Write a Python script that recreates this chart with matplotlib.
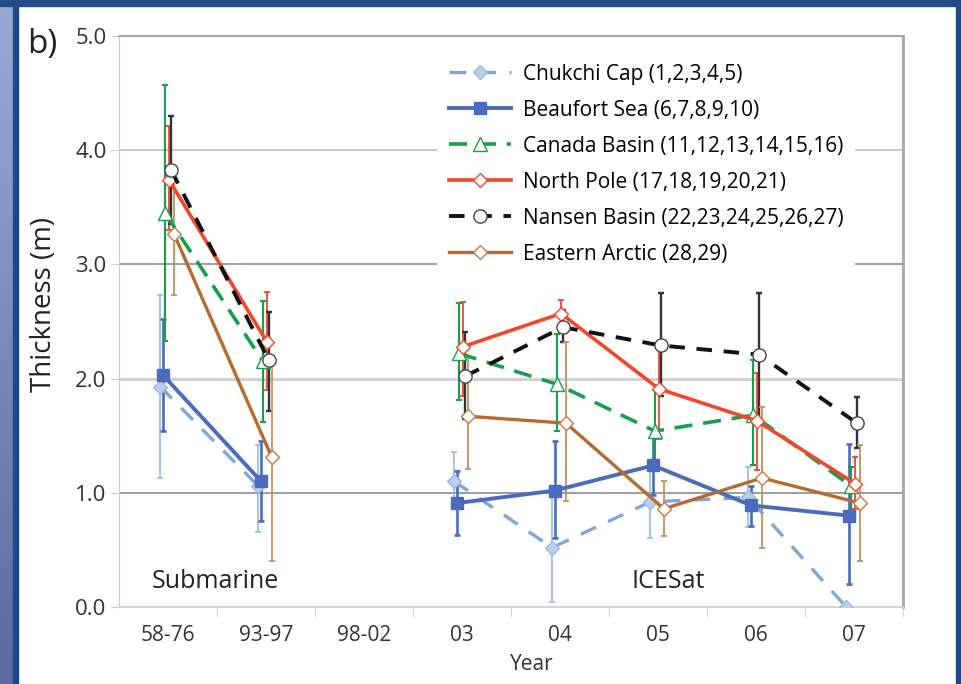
import numpy as np
import matplotlib
matplotlib.use("Agg")
import matplotlib.pyplot as plt
from matplotlib.patches import Rectangle

plt.rcParams['font.family'] = ['Open Sans', 'DejaVu Sans']

nan = np.nan
years = ['58-76', '93-97', '98-02', '03', '04', '05', '06', '07']

# mean thickness (m) per region, with lower / upper ends of the error bars
chukchi = [1.93, 1.06, nan, 1.10, 0.52, 0.92, 0.96, 0.00]
chukchi_lo = [1.13, 0.66, nan, 0.86, 0.04, 0.60, 0.70, 0.00]
chukchi_hi = [2.73, 1.42, nan, 1.36, 1.00, 1.25, 1.23, 0.00]

beaufort = [2.03, 1.10, nan, 0.91, 1.02, 1.24, 0.89, 0.80]
beaufort_lo = [1.54, 0.75, nan, 0.63, 0.60, 0.98, 0.71, 0.20]
beaufort_hi = [2.52, 1.45, nan, 1.19, 1.45, 1.49, 1.06, 1.43]

canada = [3.45, 2.15, nan, 2.22, 1.95, 1.54, 1.68, 1.06]
canada_lo = [2.33, 1.62, nan, 1.81, 1.54, 1.20, 1.24, 0.85]
canada_hi = [4.57, 2.68, nan, 2.66, 2.39, 1.90, 2.16, 1.23]

north_pole = [3.74, 2.32, nan, 2.28, 2.57, 1.91, 1.63, 1.08]
north_pole_lo = [3.30, 1.90, nan, 1.85, 2.40, 1.47, 1.20, 0.86]
north_pole_hi = [4.21, 2.76, nan, 2.67, 2.69, 2.30, 2.05, 1.31]

nansen = [3.83, 2.16, nan, 2.02, 2.45, 2.29, 2.21, 1.61]
nansen_lo = [3.35, 1.72, nan, 1.65, 2.32, 1.85, 1.65, 1.39]
nansen_hi = [4.30, 2.58, nan, 2.41, 2.60, 2.75, 2.75, 1.84]

eastern = [3.27, 1.31, nan, 1.67, 1.61, 0.86, 1.13, 0.91]
eastern_lo = [2.73, 0.40, nan, 1.21, 0.93, 0.62, 0.52, 0.40]
eastern_hi = [3.75, 2.20, nan, 2.19, 2.32, 1.10, 1.75, 1.42]

series = [
    ('Chukchi Cap (1,2,3,4,5)', chukchi, chukchi_lo, chukchi_hi,
     dict(color='#7fa6d6', ls=(0, (5, 4)), lw=2.4, marker='D', ms=7,
          mfc='#bccfe9', mec='#9ab8de'), '#8fb3de', 1.1, -0.08),
    ('Beaufort Sea (6,7,8,9,10)', beaufort, beaufort_lo, beaufort_hi,
     dict(color='#4a6bbf', ls='-', lw=2.8, marker='s', ms=8,
          mfc='#4a6bbf', mec='#4a6bbf'), '#4a6bbf', 1.9, -0.05),
    ('Canada Basin (11,12,13,14,15,16)', canada, canada_lo, canada_hi,
     dict(color='#17a04c', ls=(0, (5, 3)), lw=2.6, marker='^', ms=9.5,
          mfc='white', mec='#17a04c'), '#17a04c', 1.5, -0.03),
    ('North Pole (17,18,19,20,21)', north_pole, north_pole_lo, north_pole_hi,
     dict(color='#f2472a', ls='-', lw=2.6, marker='D', ms=7.5,
          mfc='white', mec='#f2472a'), '#f2472a', 1.3, 0.01),
    ('Nansen Basin (22,23,24,25,26,27)', nansen, nansen_lo, nansen_hi,
     dict(color='#111111', ls=(0, (4, 3)), lw=2.8, marker='o', ms=9.5,
          mfc='white', mec='#444444'), '#333333', 1.7, 0.03),
    ('Eastern Arctic (28,29)', eastern, eastern_lo, eastern_hi,
     dict(color='#b8692e', ls='-', lw=2.4, marker='D', ms=7.5,
          mfc='white', mec='#c27a48'), '#c8905e', 1.3, 0.06),
]

fig = plt.figure(figsize=(9.61, 6.84), dpi=100, facecolor='white')

# blue frame around the panel
grad = fig.add_axes([0, 0, 13 / 961, 1])
grad.imshow(np.linspace(0, 1, 256).reshape(-1, 1), aspect='auto',
            cmap=matplotlib.colors.LinearSegmentedColormap.from_list(
                'side', ['#9aaad6', '#5a6aa2']), extent=[0, 1, 0, 1])
grad.axis('off')
fig.patches.append(Rectangle((13 / 961, 0), 5 / 961, 1, color='#1f4a85',
                             transform=fig.transFigure, zorder=5))
fig.patches.append(Rectangle((0, 1 - 6 / 684), 1, 6 / 684, color='#244c84',
                             transform=fig.transFigure, zorder=5))
fig.patches.append(Rectangle((956 / 961, 0), 5 / 961, 1, color='#1f4a85',
                             transform=fig.transFigure, zorder=5))

ax = fig.add_axes([119 / 961, 1 - 607 / 684, 784 / 961, 571 / 684])
x = np.arange(len(years))

for gy, gc, gw in [(1, '#8c8c8c', 1.2), (2, '#cfcfcf', 2.0),
                   (3, '#8c8c8c', 1.2), (4, '#c4c4c4', 1.3)]:
    ax.axhline(gy, color=gc, lw=gw, zorder=0)

handles = []
for label, vals, lo, hi, style, ecol, ew, off in series:
    v = np.array(vals)
    err = np.array([v - np.array(lo), np.array(hi) - v])
    ax.errorbar(x + off, v, yerr=err, fmt='none', ecolor=ecol,
                elinewidth=ew, capsize=2.5, capthick=ew, zorder=2)
    h, = ax.plot(x + off, v, zorder=3, label=label, **style)
    handles.append(h)

leg = ax.legend(handles=handles, loc='upper right',
                bbox_to_anchor=(0.952, 0.99), fontsize=15,
                frameon=True, framealpha=1, edgecolor='none',
                facecolor='white', handlelength=3.0, borderpad=0.55,
                labelspacing=0.72, handletextpad=0.55)
leg.set_zorder(4)

ax.text(0.48, 0.22, 'Submarine', fontsize=18, ha='center', va='center',
        color='#222222')
ax.text(5.1, 0.22, 'ICESat', fontsize=18, ha='center', va='center',
        color='#222222')

ax.set_xlim(-0.5, 7.5)
ax.set_ylim(0, 5)
ax.set_xticks(x)
ax.set_xticklabels(years, fontsize=15, color='#333333')
ax.set_xticks(np.arange(0.5, 8, 1), minor=True)
ax.tick_params(axis='x', which='major', length=0, pad=13)
ax.tick_params(axis='x', which='minor', length=7, color='#cccccc',
               direction='out')
ax.set_yticks(np.arange(0, 5.1, 1))
ax.set_yticklabels(['%.1f' % t for t in np.arange(0, 5.1, 1)],
                   fontsize=16, color='#333333')
ax.tick_params(axis='y', length=6, color='#cccccc', pad=3)

ax.spines['left'].set_color('#cccccc')
ax.spines['bottom'].set_color('#d4d4d4')
ax.spines['bottom'].set_linewidth(1.5)
ax.spines['top'].set_color('#a8a8a8')
ax.spines['top'].set_linewidth(1.5)
ax.spines['right'].set_color('#a8a8a8')
ax.spines['right'].set_linewidth(2)

ax.set_ylabel('Thickness (m)', fontsize=20, color='#222222')
ax.yaxis.set_label_coords(-0.078, 0.53)
ax.set_xlabel('Year', fontsize=15, color='#333333')
ax.xaxis.set_label_coords(0.526, -0.083)

fig.text(27 / 961, 1 - 45 / 684, 'b)', fontsize=24, color='#222222',
         va='center', ha='left')

fig.savefig('out.png', dpi=100, facecolor='white')
